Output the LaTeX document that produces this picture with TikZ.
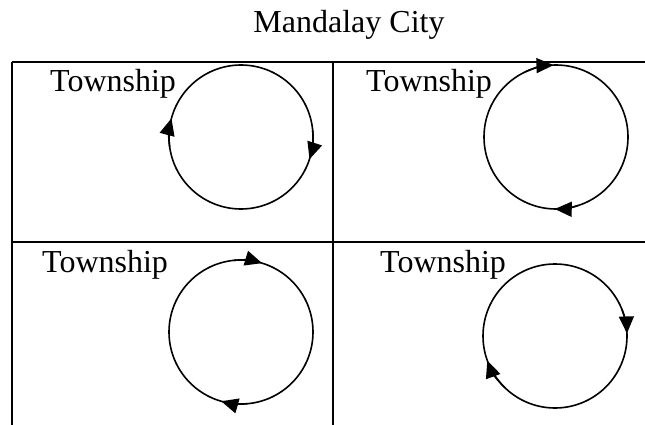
\documentclass[tikz,border=0pt]{standalone}
\usepackage{fontspec}
\setmainfont{Liberation Serif}
\usetikzlibrary{arrows.meta}

\newcommand\rc{72pt}
\newcommand\fs{\fontsize{32}{37}\selectfont}

\begin{document}
\begin{tikzpicture}[x=1pt,y=1pt,
		mylabel/.style={anchor=base west,inner sep=0pt,font=\fs},
		mycircle/.style={circle,draw=black,line width=1.6pt,inner sep=0pt,outer sep=0pt,minimum size=144pt},
		mytip/.style={black,line width=1.6pt,-{Triangle[length=17pt,width=15pt]}},
		myline/.style={black,line width=2pt}]
		\useasboundingbox (0,0) rectangle (645,-425);
		\node(city)[anchor=base,inner sep=0pt,font=\fs] at (349,-33) {Mandalay City};
		% table
		\coordinate(tl) at (12,-62);
		\coordinate(tr) at (645,-62);
		\coordinate(ml) at (12,-242);
		\coordinate(mr) at (645,-242);
		\coordinate(tm) at (333,-62);
		\coordinate(bl) at (12,-425);
		\coordinate(bm) at (333,-425);
		\path [myline] (tl) edge (tr) (ml) edge (mr) (tl) edge (bl) (tm) edge (bm);
		% townships
		\node(ta)[mylabel] at (50,-92) {Township};
		\node(tb)[mylabel] at (366,-92) {Township};
		\node(tc)[mylabel] at (42,-272) {Township};
		\node(td)[mylabel] at (380,-272) {Township};
		\node(ca)[mycircle] at (241,-137) {};
		\node(cb)[mycircle] at (556,-137) {};
		\node(cc)[mycircle] at (241,-332) {};
		\node(cd)[mycircle] at (555,-336) {};
		% flows
		\draw [mytip] (ca.188) arc[start angle=188,end angle=165,radius=\rc];
		\draw [mytip] (ca.5) arc[start angle=5,end angle=-18,radius=\rc];
		\draw [mytip] (cb.115) arc[start angle=115,end angle=92,radius=\rc];
		\draw [mytip] (cb.288) arc[start angle=288,end angle=269,radius=\rc];
		\draw [mytip] (cc.96) arc[start angle=96,end angle=73,radius=\rc];
		\draw [mytip] (cc.275) arc[start angle=275,end angle=254,radius=\rc];
		\draw [mytip] (cd.22) arc[start angle=22,end angle=2,radius=\rc];
		\draw [mytip] (cd.226) arc[start angle=226,end angle=200,radius=\rc];
	\end{tikzpicture}
\end{document}
